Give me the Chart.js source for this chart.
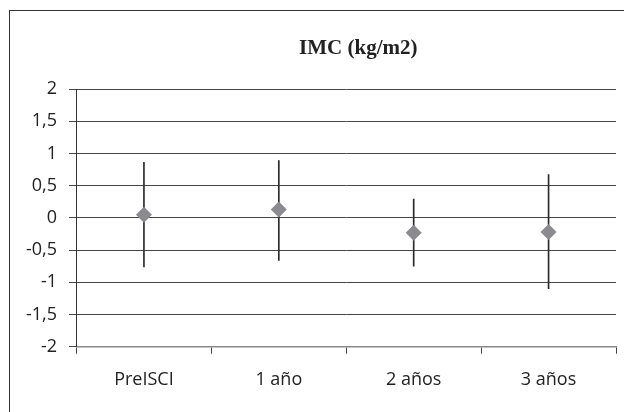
<!DOCTYPE html>
<html>
<head>
<meta charset="utf-8">
<script src="https://cdn.jsdelivr.net/npm/chart.js@4"></script>
<style>
	html, body { margin: 0; padding: 0; background: #fff; overflow: hidden; }
	#wrap { position: relative; width: 624px; height: 412px; }
	#frame { position: absolute; left: 9px; top: 10px; width: 700px; height: 500px; border: 1.5px solid #333; box-sizing: border-box; }
	#myChart { position: absolute; left: 0; top: 0; }
</style>
</head>
<body>
<div id="wrap">
	<div id="frame"></div>
	<canvas id="myChart" width="624" height="412"></canvas>
</div>
<script>
var title = 'IMC (kg/m2)';
var categories = ['PreISCI', '1 año', '2 años', '3 años'];
var means = [0.05, 0.13, -0.23, -0.22];
var upper = [0.86, 0.89, 0.29, 0.67];
var lower = [-0.76, -0.66, -0.75, -1.10];
var yTicks = [-2, -1.5, -1, -0.5, 0, 0.5, 1, 1.5, 2];

var chart = null;

window.onload = function() {
	drawChart();
}

function drawChart() {
	var context = document.getElementById('myChart').getContext('2d');
	var font = { family: 'Open Sans', size: 18 };

	var ranges = [];
	for (var i = 0; i < categories.length; i++)
		ranges.push([lower[i], upper[i]]);

	// title: drawn by hand so it can sit a bit right of the plot centre
	var titlePlugin = {
		id: 'titleText',
		afterDraw: function(c) {
			var ctx = c.ctx, a = c.chartArea;
			ctx.save();
			ctx.font = 'bold 21px "Liberation Serif"';
			ctx.fillStyle = '#222';
			ctx.textAlign = 'center';
			ctx.textBaseline = 'alphabetic';
			ctx.fillText(title, (a.left + a.right) / 2 + 12, 54);
			ctx.restore();
		}
	};

	if (chart != null) chart.destroy();
	chart = new Chart(context, {
		type: 'bar',
		data: {
			labels: categories,
			datasets: [{
				type: 'line',
				label: 'media',
				data: means,
				showLine: false,
				pointStyle: 'rectRot',
				pointRadius: 8,
				pointHoverRadius: 8,
				pointBackgroundColor: '#8b8b8f',
				pointBorderWidth: 0,
				order: 0,
			}, {
				label: 'rango',
				data: ranges,
				backgroundColor: '#2a2a2a',
				borderWidth: 0,
				barThickness: 1,
				order: 1,
			}]
		},
		options: {
			responsive: false,
			animation: false,
			layout: { padding: { top: 89, right: 6, bottom: 0, left: 0 } },
			plugins: {
				legend: { display: false },
				title: { display: false },
				tooltip: { enabled: false },
			},
			scales: {
				x: {
					offset: true,
					afterFit: function(s) { s.height = 65.3; },
					grid: {
						offset: true,
						drawOnChartArea: false,
						drawTicks: true,
						tickLength: 7,
						tickColor: '#444',
						tickWidth: 1,
					},
					border: { display: true, color: '#8a8a8a', width: 1.5 },
					ticks: { font: font, color: '#222', padding: 15, maxRotation: 0 },
				},
				y: {
					min: -2,
					max: 2,
					afterFit: function(s) { s.width = 76.5; },
					afterBuildTicks: function(s) {
						s.ticks = yTicks.map(function(v) { return { value: v }; });
					},
					grid: {
						color: function(ctx) { return ctx.tick && ctx.tick.value === -2 ? 'rgba(0,0,0,0)' : '#444'; },
						lineWidth: 1,
						drawTicks: true,
						tickLength: 7.5,
						tickColor: '#444',
					},
					border: { display: true, color: '#333', width: 1 },
					ticks: {
						font: font,
						color: '#222',
						padding: 12,
						callback: function(v) { return String(v).replace('.', ','); }
					},
				}
			}
		},
		plugins: [titlePlugin]
	});
}
</script>
</body>
</html>
